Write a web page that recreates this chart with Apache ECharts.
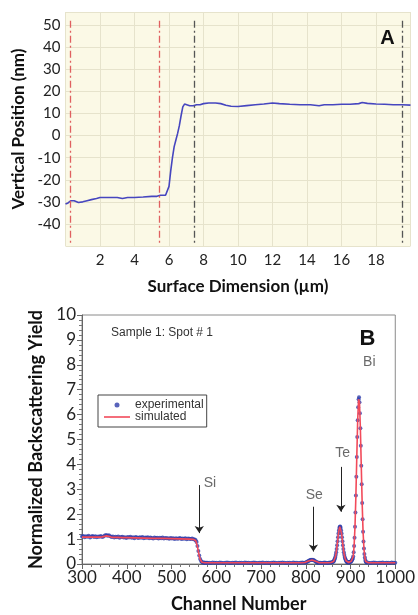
<!DOCTYPE html>
<html><head><meta charset="utf-8">
<script src="https://cdn.jsdelivr.net/npm/echarts@6/dist/echarts.min.js"></script>
<style>html,body{margin:0;padding:0;background:#fff}#c{width:418px;height:615px}</style>
</head><body><div id="c"></div>
<script>
// ---------- Panel A : surface profile ----------
const profileX = [0, 0.15, 0.3, 0.5, 0.75, 1.0, 1.25, 1.5, 1.8, 2.0, 2.5, 3.0, 3.3, 3.6, 4.0, 4.5, 5.0, 5.3, 5.5, 5.8, 5.9, 6.0, 6.1, 6.2, 6.3, 6.4, 6.5, 6.6, 6.7, 6.8, 6.9, 7.0, 7.2, 7.4, 7.6, 7.8, 8.0, 8.3, 8.7, 9.0, 9.3, 9.6, 10.0, 10.5, 11.0, 11.5, 12.0, 12.4, 13.0, 13.6, 14.2, 14.7, 15.0, 15.5, 16.0, 16.5, 17.0, 17.2, 17.5, 18.0, 18.5, 19.0, 19.5, 20.0];
const profileY = [-31, -30.5, -29.5, -29.5, -30.3, -30, -29.5, -29, -28.5, -28, -28, -28, -28.5, -28, -28, -27.8, -27.5, -27.5, -27, -27, -26.5, -23, -16, -10, -5, -2, 1, 4.5, 9, 13, 14.3, 14, 13.5, 13.5, 14, 14, 14.5, 14.8, 14.8, 14.5, 13.8, 13.3, 13.2, 13.6, 14, 14.3, 14.8, 14.5, 14.2, 14, 14, 13.5, 14, 14, 14.2, 14.2, 14.5, 15, 14.6, 14.3, 14.2, 14, 14, 13.8];
const markerRed = [0.3, 5.42];
const markerBlack = [7.45, 19.5];
const markerSpan = [52, -49];
const xTicksA = [2, 4, 6, 8, 10, 12, 14, 16, 18];

// ---------- Panel B : RBS spectrum ----------
const expFlatStart = 300, expFlatStep = 3;
const expFlatYield = [1.10,1.12,1.07,1.11,1.09,1.13,1.06,1.10,1.12,1.08,
 1.11,1.07,1.10,1.09,1.12,1.08,1.10,1.14,1.16,1.13,
 1.15,1.11,1.08,1.10,1.06,1.09,1.07,1.10,1.05,1.08,
 1.09,1.06,1.07,1.04,1.08,1.06,1.09,1.05,1.07,1.03,
 1.08,1.06,1.04,1.07,1.05,1.08,1.03,1.06,1.05,1.07,
 1.03,1.06,1.04,1.02,1.06,1.04,1.05,1.02,1.05,1.03,
 1.06,1.02,1.04,1.03,1.03,1.01,1.04,1.02,1.03,1.00,
 1.03,1.01,1.02,1.04,1.00,1.02,1.01,1.03,0.99,1.02,
 1.01,1.00,1.02,0.99];
const expEdge = [[552,0.98],[554,0.95],[556,0.88],[558,0.72],[560,0.52],[562,0.34],[564,0.2],[566,0.12],[568,0.08],[570,0.06],[572,0.05],[574,0.06],[576,0.04],[578,0.05],[580,0.05]];
const expBaseStart = 584, expBaseStep = 4;
const expBaseYield = [0.05,0.04,0.06,0.05,0.05,0.04,0.06,0.05,0.04,0.05,
 0.06,0.05,0.04,0.05,0.05,0.06,0.04,0.05,0.05,0.04,
 0.06,0.05,0.05,0.04,0.05,0.06,0.05,0.04,0.05,0.05,
 0.06,0.04,0.05,0.05,0.04,0.05,0.06,0.05,0.04,0.05,
 0.05,0.06,0.05,0.04,0.05,0.05,0.04,0.06,0.05,0.05,
 0.04,0.05,0.06,0.05];
const expPeaks = [[800,0.06],[802,0.08],[804,0.10],[806,0.12],[808,0.14],[810,0.16],[812,0.17],[814,0.16],[816,0.17],[818,0.15],[820,0.13],[822,0.10],[824,0.08],[826,0.06],[828,0.05],[830,0.05],
 [833,0.05],[836,0.04],[839,0.05],[842,0.06],[845,0.05],[848,0.04],[851,0.05],[854,0.06],[857,0.06],[859,0.07],[861,0.09],
 [862,0.10],[863,0.13],[864,0.17],[865,0.22],[866,0.28],[867,0.37],[868,0.47],[869,0.60],[870,0.75],[871,0.91],[872,1.07],[873,1.22],[874,1.35],[875,1.45],[876,1.50],[877,1.51],[878,1.45],[879,1.35],[880,1.22],[881,1.07],[882,0.91],[883,0.75],[884,0.60],[885,0.47],[886,0.37],[887,0.28],[888,0.22],[889,0.17],[890,0.13],[891,0.10],[892,0.08],[893,0.07],[894,0.06],[895,0.06],[896,0.07],[897,0.06],[898,0.07],[899,0.08],[900,0.09],[901,0.10],[902,0.12],[903,0.15],
 [904,0.18],[905,0.22],[906,0.30],[907,0.47],[908,0.72],[909,1.05],[910,1.50],[911,2.07],[912,2.75],[913,3.50],[914,4.30],[915,5.10],[916,5.77],[917,6.30],[918,6.62],[919,6.70],[920,6.50],[921,6.05],[922,5.45],[923,4.75],[924,3.95],[925,3.20],[926,2.45],[927,1.80],[928,1.30],[929,0.90],[930,0.62],[931,0.40],[932,0.26],[933,0.16],[934,0.10],[935,0.07],[936,0.06]];
const expTailStart = 940, expTailStep = 4;
const expTailYield = [0.05,0.04,0.05,0.06,0.05,0.04,0.05,0.05,0.06,0.04,0.05,0.05,0.04,0.06,0.05,0.05];

const simulated = [[300,1.08],[310,1.08],[320,1.08],[330,1.08],[340,1.08],[345,1.09],[350,1.11],[355,1.13],[360,1.11],[365,1.08],[370,1.07],[380,1.07],[390,1.06],[400,1.06],[420,1.05],[440,1.04],[460,1.03],[480,1.03],[500,1.02],[520,1.01],[540,1.0],[548,0.99],[552,0.97],[554,0.94],[556,0.86],[558,0.7],[560,0.5],[562,0.32],[564,0.19],[566,0.11],[568,0.07],[570,0.06],[574,0.05],[580,0.05],[600,0.05],[650,0.05],[700,0.05],[750,0.05],[790,0.05],[798,0.06],[802,0.08],[806,0.12],[810,0.15],[814,0.16],[818,0.15],[822,0.11],[826,0.07],[830,0.05],[836,0.05],[850,0.05],[856,0.06],[860,0.08],[862,0.1],[864,0.16],[866,0.27],[868,0.46],[870,0.74],[872,1.06],[874,1.34],[876,1.5],[877,1.5],[878,1.45],[880,1.22],[882,0.91],[884,0.6],[886,0.37],[888,0.22],[890,0.13],[892,0.08],[894,0.06],[896,0.06],[898,0.07],[900,0.09],[902,0.12],[904,0.17],[906,0.3],[908,0.72],[910,1.5],[912,2.75],[914,4.3],[916,5.77],[918,6.62],[919,6.7],[920,6.5],[922,5.45],[924,3.95],[926,2.45],[928,1.3],[930,0.62],[932,0.26],[934,0.1],[936,0.06],[940,0.05],[960,0.05],[1000,0.05]];

const arrowChannels = [562, 817, 878.5];
const arrowFrom = [3.17, 2.3, 3.9];
const arrowTo = [1.24, 0.5, 2.1];
const elementNames = ['Si', 'Se', 'Te', 'Bi'];
const elementChannels = [586, 819, 882.5, 942];
const elementYields = [3.25, 2.77, 4.46, 8.12];

// ---------- build ----------
const profile = profileX.map((x, i) => [x, profileY[i]]);
const experimental = []
  .concat(expFlatYield.map((v, i) => [expFlatStart + i * expFlatStep, v]))
  .concat(expEdge)
  .concat(expBaseYield.map((v, i) => [expBaseStart + i * expBaseStep, v]))
  .concat(expPeaks)
  .concat(expTailYield.map((v, i) => [expTailStart + i * expTailStep, v]));

const vline = (x, color) => [
  { coord: [x, markerSpan[0]], lineStyle: { color: color, width: 1.3, type: [7, 3, 2, 3] } },
  { coord: [x, markerSpan[1]] }
];

const font = 'Lato';
const chart = echarts.init(document.getElementById('c'), null, { renderer: 'canvas' });
chart.setOption({
  animation: false,
  backgroundColor: '#fff',
  grid: [
    { left: 65.5, top: 12, width: 345, height: 234, show: true, backgroundColor: '#fbf9e6', borderWidth: 0 },
    { left: 82, top: 315, width: 314, height: 249, show: true, backgroundColor: '#fff', borderColor: '#8a8a8a', borderWidth: 1 }
  ],
  xAxis: [
    {
      gridIndex: 0, type: 'value', min: 0, max: 20, interval: 2,
      axisLine: { show: false }, axisTick: { show: false },
      splitLine: { show: true, lineStyle: { color: '#e6e3cc', width: 1 } },
      axisLabel: { fontFamily: font, fontSize: 15, color: '#222', margin: 7,
        formatter: v => xTicksA.indexOf(v) >= 0 ? String(v) : '' },
      name: 'Surface Dimension (µm)', nameLocation: 'middle', nameGap: 32,
      nameTextStyle: { fontFamily: font, fontWeight: 'bold', fontSize: 17, color: '#111' }
    },
    {
      gridIndex: 1, type: 'value', min: 300, max: 1000, interval: 100,
      axisLine: { show: true, lineStyle: { color: '#666' } },
      axisTick: { show: true, length: 5, lineStyle: { color: '#666' } },
      minorTick: { show: true, splitNumber: 5, length: 3, lineStyle: { color: '#777' } },
      splitLine: { show: false },
      axisLabel: { fontFamily: font, fontSize: 17, color: '#222', margin: 5, formatter: v => String(v) },
      name: 'Channel Number', nameLocation: 'middle', nameGap: 31,
      nameTextStyle: { fontFamily: font, fontWeight: 'bold', fontSize: 18, color: '#111' }
    }
  ],
  yAxis: [
    {
      gridIndex: 0, type: 'value', min: -50, max: 56, interval: 10,
      axisLine: { show: false }, axisTick: { show: false },
      splitLine: { show: true, lineStyle: { color: '#e6e3cc', width: 1 } },
      axisLabel: { fontFamily: font, fontSize: 15, color: '#222', margin: 5, showMinLabel: false, showMaxLabel: false },
      name: 'Vertical Position (nm)', nameLocation: 'middle', nameGap: 33,
      nameTextStyle: { fontFamily: font, fontWeight: 'bold', fontSize: 17, color: '#111' }
    },
    {
      gridIndex: 1, type: 'value', min: 0, max: 10, interval: 1,
      axisLine: { show: true, lineStyle: { color: '#666' } },
      axisTick: { show: true, length: 5, lineStyle: { color: '#666' } },
      minorTick: { show: true, splitNumber: 5, length: 3, lineStyle: { color: '#777' } },
      splitLine: { show: false },
      axisLabel: { fontFamily: font, fontSize: 17, color: '#222', margin: 6 },
      name: 'Normalized Backscattering Yield', nameLocation: 'middle', nameGap: 29,
      nameTextStyle: { fontFamily: font, fontWeight: 'bold', fontSize: 18, color: '#111' }
    }
  ],
  legend: {
    data: [
      { name: 'experimental', icon: 'circle' },
      { name: 'simulated', icon: 'path://M0 0H26V1.6H0Z' }
    ],
    orient: 'vertical', left: 98, top: 395,
    itemWidth: 26, itemHeight: 5, itemGap: 0,
    padding: [4, 3, 4, 6],
    borderColor: '#444', borderWidth: 1, backgroundColor: '#fff',
    textStyle: { fontFamily: 'Liberation Sans', fontSize: 12, color: '#333', lineHeight: 12 }
  },
  graphic: [
    { type: 'text', x: 387.5, y: 38.5, style: { text: 'A', font: 'bold 20px Arial, "Liberation Sans"', fill: '#111', textAlign: 'center', textVerticalAlign: 'middle' } },
    { type: 'text', x: 367.5, y: 338.5, style: { text: 'B', font: 'bold 22px Arial, "Liberation Sans"', fill: '#111', textAlign: 'center', textVerticalAlign: 'middle' } },
    { type: 'text', x: 162, y: 333, style: { text: 'Sample 1: Spot # 1', font: '12px "Liberation Sans"', fill: '#333', textAlign: 'center', textVerticalAlign: 'middle' } }
  ],
  series: [
    {
      name: 'profile', type: 'line', xAxisIndex: 0, yAxisIndex: 0,
      data: profile, symbol: 'none', z: 3,
      lineStyle: { color: '#4646bf', width: 1.6 },
      markLine: {
        silent: true, symbol: ['none', 'none'], label: { show: false },
        data: markerRed.map(x => vline(x, '#e06060')).concat(markerBlack.map(x => vline(x, '#555555')))
      }
    },
    {
      name: 'experimental', type: 'scatter', xAxisIndex: 1, yAxisIndex: 1,
      data: experimental, symbol: 'circle', symbolSize: 4, z: 2,
      itemStyle: { color: '#2e3caa' },
      markLine: {
        silent: true, symbol: ['none', 'arrow'], symbolSize: 7, label: { show: false },
        lineStyle: { color: '#222', width: 1, type: 'solid' },
        data: arrowChannels.map((c, i) => [{ coord: [c, arrowFrom[i]] }, { coord: [c, arrowTo[i]] }])
      }
    },
    {
      name: 'simulated', type: 'line', xAxisIndex: 1, yAxisIndex: 1,
      data: simulated, symbol: 'none', z: 3,
      lineStyle: { color: '#f24a5a', width: 1.6 },
      itemStyle: { color: '#f24a5a' }
    },
    {
      name: 'labels', type: 'scatter', xAxisIndex: 1, yAxisIndex: 1, symbolSize: 0, silent: true,
      data: elementNames.map((n, i) => ({ value: [elementChannels[i], elementYields[i]], name: n })),
      label: { show: true, position: 'inside', formatter: p => p.name, fontFamily: 'Liberation Sans', fontSize: 14, color: '#444' }
    }
  ]
});
</script></body></html>
